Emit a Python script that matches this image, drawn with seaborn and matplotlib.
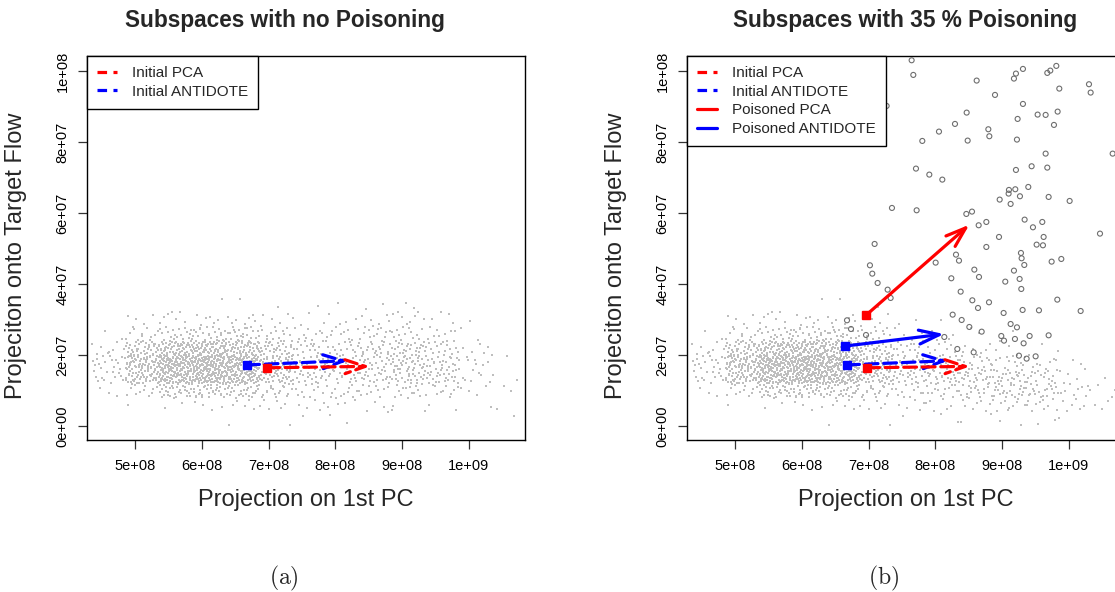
import numpy as np
import pandas as pd
import matplotlib
matplotlib.use("Agg")
import matplotlib.pyplot as plt
from matplotlib.lines import Line2D
import seaborn as sns

# ---------------- data ----------------
# dense cloud of normal traffic, read as counts per cell (rows: x bins, cols: y bins)
x_edges = [4.35e8, 4.85e8, 5.35e8, 5.85e8, 6.35e8, 6.85e8, 7.35e8, 7.85e8,
           8.35e8, 8.85e8, 9.35e8, 9.85e8, 10.35e8, 10.75e8]
y_edges = [0.0, 0.4e7, 0.8e7, 1.2e7, 1.6e7, 2.0e7, 2.4e7, 2.8e7, 3.2e7, 3.6e7]

counts_clean = [
    [0, 0, 3, 12, 14, 8, 2, 0, 0],
    [0, 1, 12, 45, 55, 35, 12, 4, 0],
    [0, 3, 30, 80, 90, 55, 18, 6, 1],
    [0, 4, 32, 85, 95, 60, 22, 6, 1],
    [1, 5, 28, 75, 85, 55, 22, 7, 1],
    [1, 6, 18, 38, 42, 30, 14, 5, 1],
    [1, 5, 11, 20, 22, 17, 9, 4, 1],
    [2, 5, 11, 18, 20, 16, 10, 4, 1],
    [1, 4, 11, 20, 22, 20, 13, 6, 2],
    [0, 3, 13, 28, 30, 24, 13, 7, 3],
    [0, 2, 11, 24, 22, 16, 9, 3, 1],
    [0, 1, 4, 7, 8, 5, 2, 1, 0],
    [1, 1, 2, 2, 1, 0, 0, 0, 0],
]
counts_poisoned = [
    [0, 0, 3, 12, 14, 8, 2, 0, 0],
    [0, 1, 12, 45, 55, 35, 12, 4, 0],
    [0, 3, 30, 80, 90, 55, 18, 6, 1],
    [0, 4, 32, 85, 95, 60, 22, 6, 1],
    [1, 5, 28, 75, 85, 55, 22, 7, 1],
    [1, 6, 18, 38, 42, 30, 14, 5, 1],
    [1, 5, 12, 22, 22, 14, 6, 2, 0],
    [2, 6, 14, 24, 20, 10, 4, 1, 0],
    [2, 8, 18, 24, 16, 6, 2, 0, 0],
    [2, 10, 22, 24, 12, 4, 1, 0, 0],
    [2, 10, 20, 16, 8, 2, 0, 0, 0],
    [1, 6, 9, 5, 2, 0, 0, 0, 0],
    [1, 3, 3, 1, 0, 0, 0, 0, 0],
]

# poisoned (chaff) points, x in units of 1e8, y in units of 1e7
chaff_x = [7.644, 7.669, 6.835, 7.269, 8.619, 8.894, 9.178, 9.208, 9.313, 9.678,
           9.723, 9.813, 9.858, 10.303, 10.328, 9.313, 8.469, 8.294, 8.054, 7.804,
           8.794, 8.809, 8.484, 9.233, 9.223, 9.533, 9.653, 9.833, 9.778, 10.658,
           9.653, 7.709, 7.909, 8.104, 9.208, 9.443, 9.678, 9.103, 9.198, 9.098,
           9.393, 9.268, 8.964, 9.128, 9.698, 10.013, 7.349, 7.719, 8.464, 8.549,
           8.649, 8.764, 9.338, 9.603, 9.463, 10.468, 8.954, 9.623, 7.089, 9.518,
           9.613, 8.764, 8.309, 8.354, 8.004, 9.283, 9.293, 9.333, 9.743, 9.888,
           7.019, 7.054, 8.584, 8.654, 9.178, 8.239, 9.048, 9.263, 9.288, 7.134,
           7.284, 7.329, 8.379, 8.554, 8.639, 8.804, 9.828, 9.023, 9.308, 9.553,
           10.178, 8.259, 8.394, 8.509, 8.694, 9.128, 9.223, 6.675, 6.735, 6.960,
           8.134, 8.988, 9.029, 9.193, 9.413, 9.323, 9.698, 8.329, 8.574, 9.253,
           9.368, 9.503]
chaff_y = [10.30, 9.887, 9.277, 9.014, 9.728, 9.324, 9.784, 9.925, 10.056, 9.944,
           10.009, 10.141, 9.502, 9.625, 9.390, 9.070, 8.826, 8.507, 8.291, 8.028,
           8.357, 8.160, 8.038, 8.648, 8.066, 8.770, 8.761, 8.854, 8.479, 7.671,
           7.671, 7.249, 7.080, 6.939, 7.211, 7.315, 7.277, 6.648, 6.667, 6.545,
           6.732, 6.470, 6.376, 6.254, 6.451, 6.338, 6.141, 6.075, 5.972, 6.038,
           5.653, 5.746, 5.812, 5.746, 5.596, 5.418, 5.324, 5.324, 5.127, 5.108,
           5.089, 5.042, 4.826, 4.657, 4.601, 4.873, 4.723, 4.535, 4.629, 4.704,
           4.526, 4.291, 4.404, 4.197, 4.376, 4.160, 4.066, 4.141, 3.859, 4.028,
           3.840, 3.606, 3.784, 3.540, 3.324, 3.484, 3.559, 3.183, 3.268, 3.258,
           3.239, 3.136, 2.986, 2.789, 2.657, 2.873, 2.779, 2.977, 2.732, 2.563,
           2.507, 2.535, 2.404, 2.451, 2.535, 2.329, 2.554, 2.169, 2.075, 1.981,
           1.897, 1.962]

# subspace arrows: (x_start, y_start, x_end, y_end)
initial_pca = (6.97e8, 1.64e7, 8.52e8, 1.68e7)
initial_antidote = (6.67e8, 1.72e7, 8.19e8, 1.84e7)
poisoned_pca = (6.96e8, 3.12e7, 8.51e8, 5.67e7)
poisoned_antidote = (6.64e8, 2.25e7, 8.13e8, 2.59e7)

x_ticks = [5e8, 6e8, 7e8, 8e8, 9e8, 1e9]
x_tick_labels = ["5e+08", "6e+08", "7e+08", "8e+08", "9e+08", "1e+09"]
y_ticks = [0, 2e7, 4e7, 6e7, 8e7, 1e8]
y_tick_labels = ["0e+00", "2e+07", "4e+07", "6e+07", "8e+07", "1e+08"]

titles = ["Subspaces with no Poisoning", "Subspaces with 35 % Poisoning"]
x_label = "Projection on 1st PC"
y_label = "Projeciton onto Target Flow"
sub_labels = ["(a)", "(b)"]


# ---------------- helpers ----------------
def radical_inverse(n, base):
    f, r = 1.0, 0.0
    while n > 0:
        f /= base
        r += f * (n % base)
        n //= base
    return r


def cloud_frame(counts):
    """Spread each cell's counted points evenly inside the cell (Halton layout)."""
    xs, ys = [], []
    k = 0
    for i in range(len(x_edges) - 1):
        for j in range(len(y_edges) - 1):
            for _ in range(counts[i][j]):
                k += 1
                u = radical_inverse(k, 2)
                v = radical_inverse(k, 3)
                xs.append(x_edges[i] + u * (x_edges[i + 1] - x_edges[i]))
                ys.append(y_edges[j] + v * (y_edges[j + 1] - y_edges[j]))
    return pd.DataFrame({"x": xs, "y": ys})


def draw_arrow(ax, seg, color, ls):
    x0, y0, x1, y1 = seg
    ax.annotate("", xy=(x1, y1), xytext=(x0, y0),
                arrowprops=dict(arrowstyle="->,head_length=1.45,head_width=0.5",
                                mutation_scale=10, lw=2.3, color=color,
                                linestyle=ls, shrinkA=0, shrinkB=0),
                zorder=5)
    ax.plot([x0], [y0], marker="s", ms=6.2, color=color, mec=color, zorder=6)


# ---------------- style ----------------
sns.set_style("ticks")
plt.rcParams["font.family"] = ["Liberation Sans", "DejaVu Sans"]
plt.rcParams["mathtext.fontset"] = "cm"

W, H = 1115, 592
fig = plt.figure(figsize=(W / 100, H / 100), dpi=100)
ax_w, ax_h = 438 / W, 384 / H
ax_bottom = 1 - 440 / H
axes = [fig.add_axes([87 / W, ax_bottom, ax_w, ax_h]),
        fig.add_axes([687 / W, ax_bottom, ax_w, ax_h])]
title_x = [285, 905]
sub_x = [284, 884]

gray = "#BEBEBE"
red, blue = "#FF0000", "#0000FF"
dash = (0, (4, 1.8))

for idx, ax in enumerate(axes):
    counts = counts_clean if idx == 0 else counts_poisoned
    df = cloud_frame(counts)
    sns.scatterplot(data=df, x="x", y="y", ax=ax, marker="s", s=2.6,
                    color=gray, linewidth=0, legend=False, zorder=2)
    if idx == 1:
        chaff = pd.DataFrame({"x": np.array(chaff_x) * 1e8,
                              "y": np.array(chaff_y) * 1e7})
        sns.scatterplot(data=chaff, x="x", y="y", ax=ax, marker="o", s=13,
                        facecolor="none", edgecolor="#6E6E6E", linewidth=0.8,
                        legend=False, zorder=3)

    draw_arrow(ax, initial_antidote, blue, dash)
    draw_arrow(ax, initial_pca, red, dash)
    if idx == 1:
        draw_arrow(ax, poisoned_antidote, blue, "-")
        draw_arrow(ax, poisoned_pca, red, "-")

    ax.set_xlim(4.276e8, 10.843e8)
    ax.set_ylim(-0.394e7, 10.42e7)
    ax.set_xticks(x_ticks)
    ax.set_xticklabels(x_tick_labels)
    ax.set_yticks(y_ticks)
    ax.set_yticklabels(y_tick_labels)
    ax.tick_params(axis="both", direction="out", length=6.5, width=0.9,
                   color="#333333", labelsize=10.5, labelcolor="black")
    ax.tick_params(axis="x", pad=7)
    ax.tick_params(axis="y", pad=6, labelrotation=90)
    for lab in ax.get_yticklabels():
        lab.set_va("center")
    for sp in ax.spines.values():
        sp.set_visible(True)
        sp.set_color("black")
        sp.set_linewidth(1.0)

    ax.set_xlabel(x_label, fontsize=17)
    ax.xaxis.set_label_coords(0.5, -0.128)
    ax.set_ylabel(y_label, fontsize=17)
    ax.yaxis.set_label_coords(-0.137, 0.48)
    fig.text(title_x[idx] / W, 1 - 20 / H, titles[idx], ha="center",
             va="center", fontsize=16.3, fontweight="bold")

    handles = [Line2D([], [], color=red, lw=2.3, linestyle=(0, (3, 2))),
               Line2D([], [], color=blue, lw=2.3, linestyle=(0, (3, 2)))]
    labels = ["Initial PCA", "Initial ANTIDOTE"]
    if idx == 1:
        handles += [Line2D([], [], color=red, lw=2.3),
                    Line2D([], [], color=blue, lw=2.3)]
        labels += ["Poisoned PCA", "Poisoned ANTIDOTE"]
    leg = ax.legend(handles, labels, loc="upper left", borderaxespad=0,
                    fontsize=11, frameon=True, fancybox=False, framealpha=1,
                    edgecolor="black", handlelength=1.3, handletextpad=1.0,
                    labelspacing=0.31, borderpad=0.65)
    leg.get_frame().set_linewidth(1.0)
    leg.set_zorder(10)

    fig.text(sub_x[idx] / W, 1 - 578 / H, r"$\mathrm{" + sub_labels[idx] + "}$",
             ha="center", va="center", fontsize=17)

fig.savefig("out.png", dpi=100)
